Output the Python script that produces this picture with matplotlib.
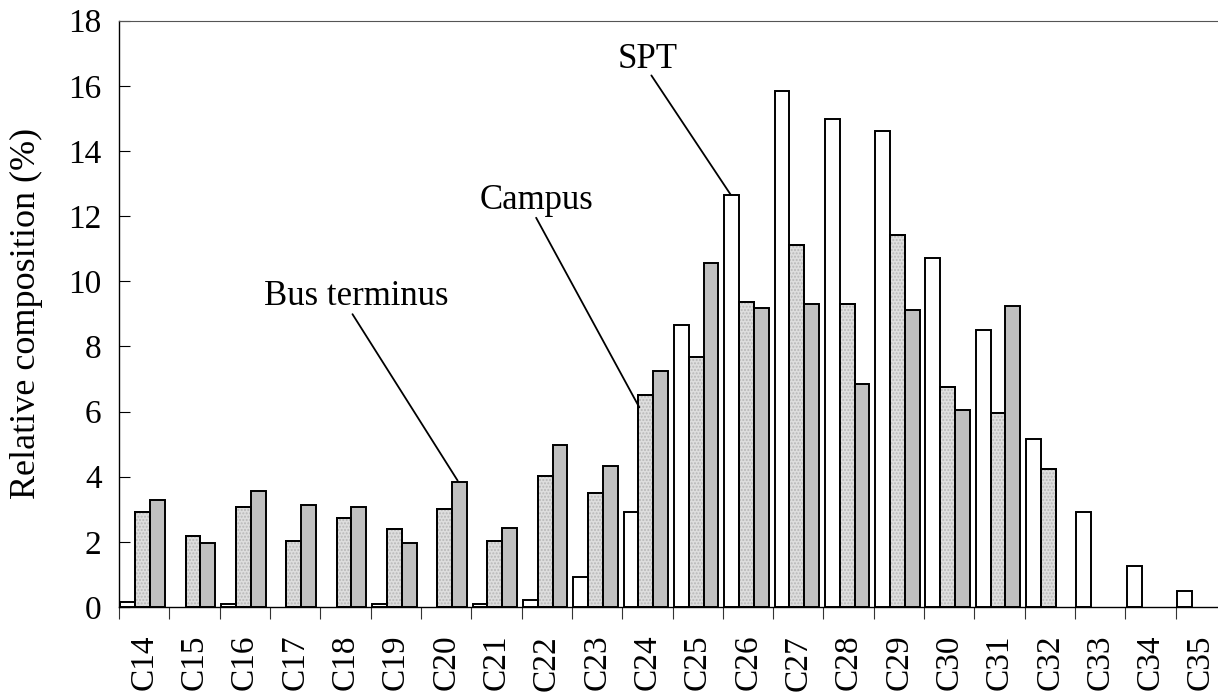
import numpy as np
import matplotlib
matplotlib.use('Agg')
import matplotlib.pyplot as plt

plt.rcParams['font.family'] = ['Liberation Serif', 'DejaVu Serif']

# data
categories = ['C14', 'C15', 'C16', 'C17', 'C18', 'C19', 'C20', 'C21', 'C22', 'C23', 'C24',
              'C25', 'C26', 'C27', 'C28', 'C29', 'C30', 'C31', 'C32', 'C33', 'C34', 'C35']
spt = [0.15, 0, 0.08, 0, 0, 0.08, 0, 0.08, 0.22, 0.92, 2.93,
       8.66, 12.65, 15.85, 14.97, 14.62, 10.72, 8.5, 5.15, 2.92, 1.25, 0.5]
campus = [2.93, 2.17, 3.07, 2.02, 2.72, 2.38, 3.01, 2.02, 4.01, 3.49, 6.5,
          7.68, 9.37, 11.12, 9.31, 11.41, 6.74, 5.97, 4.24, 0, 0, 0]
bus = [3.27, 1.95, 3.56, 3.13, 3.07, 1.95, 3.85, 2.44, 4.97, 4.34, 7.25,
       10.55, 9.17, 9.31, 6.85, 9.12, 6.04, 9.25, 0, 0, 0, 0]

# leader labels: (text, text x, baseline y, line start, line end)
labels = [('SPT', 10.0, 16.56, (10.08, 16.32), (11.66, 12.65)),
          ('Campus', 7.79, 12.22, (7.79, 11.95), (9.84, 6.13)),
          ('Bus terminus', 4.21, 9.27, (4.14, 8.99), (6.23, 3.88))]

fig = plt.figure(figsize=(12.18, 6.95), dpi=100)
ax = fig.add_axes([119 / 1218, 88 / 695, 1107 / 1218, 586.3 / 695])

x = np.arange(len(categories))
w = 0.295
shift = -0.03
series = [(spt, 'white', -w), (campus, '#dedede', 0), (bus, '#c0c0c0', w)]
for vals, col, off in series:
    vals = np.array(vals)
    keep = vals > 0
    ax.bar(x[keep] + off + shift, vals[keep], width=w, color=col,
           edgecolor='black', linewidth=1.4, zorder=3)
    if col == '#dedede':
        # fine stipple on the campus bars
        ax.bar(x[keep] + off + shift, vals[keep], width=w, color='none',
               edgecolor='#b8b8b8', hatch='.....', linewidth=0, zorder=3)
        ax.bar(x[keep] + off + shift, vals[keep], width=w, color='none',
               edgecolor='black', linewidth=1.4, zorder=4)

ax.set_xlim(-0.5, 21.5)
ax.set_ylim(0, 18)
ax.set_yticks(np.arange(0, 19, 2))
ax.tick_params(axis='y', direction='in', length=7.7, width=0.8, labelsize=24, pad=12.5)

ax.set_xticks(np.arange(-0.5, 22, 1))
ax.set_xticklabels([])
ax.set_xticks(x, minor=True)
ax.set_xticklabels(categories, minor=True, rotation=90, fontsize=24)
ax.tick_params(axis='x', which='major', direction='out', length=8.6, width=0.8, color='#333333')
ax.tick_params(axis='x', which='minor', length=0, pad=20)

for s in ['left', 'bottom']:
    ax.spines[s].set_linewidth(1.0)
ax.spines['top'].set_linewidth(0.8)
ax.spines['top'].set_color('#555555')
ax.spines['right'].set_visible(False)

ax.text(-0.084, 0.5, 'Relative composition (%)', transform=ax.transAxes,
        rotation=90, ha='center', va='center', fontsize=26)

for txt, tx, ty, start, end in labels:
    ax.text(tx, ty, txt, fontsize=25, ha='center', va='baseline')
    ax.annotate('', xy=end, xytext=start,
                arrowprops=dict(arrowstyle='-', color='black', lw=1.3, shrinkA=0, shrinkB=0))

fig.savefig('out.png', dpi=100)
